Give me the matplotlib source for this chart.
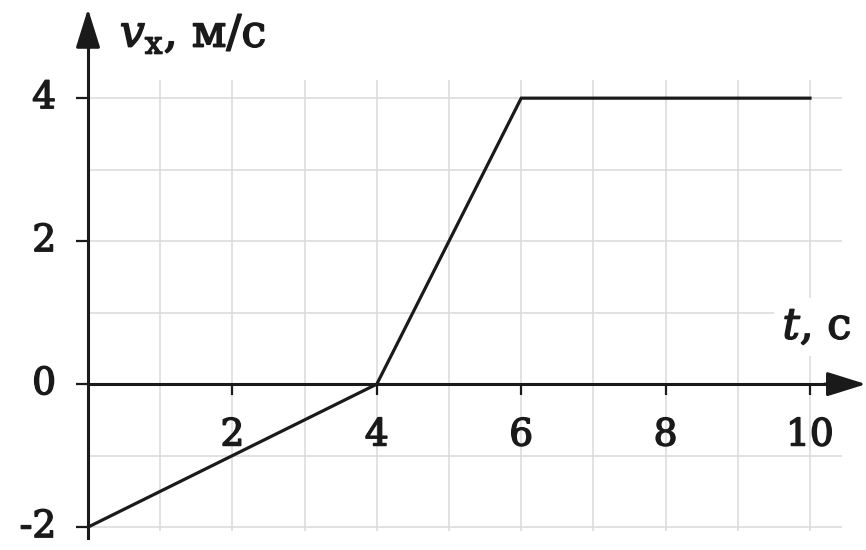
import numpy as np
import matplotlib
matplotlib.use("Agg")
import matplotlib.pyplot as plt
import matplotlib.patheffects as pe

plt.rcParams['font.family'] = ['DejaVu Serif']
plt.rcParams['mathtext.fontset'] = 'dejavuserif'
plt.rcParams['axes.unicode_minus'] = False

# graph of v_x(t)
t = [0, 4, 6, 10]
vx = [-2, 0, 4, 4]

xticks = [2, 4, 6, 8, 10]
yticks = [-2, 0, 2, 4]
grid_x = np.arange(1, 11)
grid_y = [-2, -1, 1, 2, 3, 4]

ink = '#1a1a1a'
grid_col = '#dadada'
# a bit heavier than the regular face, lighter than bold
heavy = [pe.withStroke(linewidth=1.1, foreground=ink)]

fig = plt.figure(figsize=(8.66, 5.5), dpi=100)
ax = fig.add_axes([0, 0, 1, 1])
ax.set_xlim(-1.219, 10.776)
ax.set_ylim(-2.32, 5.373)

# light grid
ax.vlines(grid_x, -2.05, 4.25, color=grid_col, lw=1.1, zorder=0)
ax.hlines(grid_y, 0, 10.44, color=grid_col, lw=1.1, zorder=0)

# axes through the origin
for side in ['top', 'right']:
    ax.spines[side].set_visible(False)
ax.spines['left'].set_position(('data', 0))
ax.spines['bottom'].set_position(('data', 0))
ax.spines['left'].set_bounds(-2.15, 5.0)
ax.spines['bottom'].set_bounds(0, 10.3)
for side in ['left', 'bottom']:
    ax.spines[side].set_linewidth(2.2)
    ax.spines[side].set_color(ink)

arrow = dict(arrowstyle='-|>,head_length=1.6,head_width=0.5',
             mutation_scale=15, lw=2.2, color=ink, shrinkA=0, shrinkB=0)
ax.annotate('', xy=(0, 5.25), xytext=(0, 4.8), arrowprops=arrow)
ax.annotate('', xy=(10.776, 0), xytext=(10.2, 0), arrowprops=arrow)

ax.set_xticks(xticks)
ax.set_xticklabels([str(v) for v in xticks])
ax.set_yticks(yticks)
ax.set_yticklabels([str(v) for v in yticks], va='center')
ax.tick_params(axis='x', direction='out', length=8, width=1.6, color=ink,
               labelsize=27, pad=16, labelcolor=ink)
ax.tick_params(axis='y', direction='out', length=9, width=1.6, color=ink,
               labelsize=27, pad=14, labelcolor=ink)
for lab in ax.get_xticklabels() + ax.get_yticklabels():
    lab.set_path_effects(heavy)

# the motion graph
ax.plot(t, vx, color=ink, lw=2.3, solid_joinstyle='miter', zorder=3)

# axis names
ax.text(0.44, 4.72, r'$v_{\mathrm{x}}$, м/с', fontsize=32, color=ink,
        ha='left', va='baseline', path_effects=heavy)
ax.text(9.62, 0.63, r'$t$, с', fontsize=31, color=ink,
        ha='left', va='baseline', path_effects=heavy,
        bbox=dict(facecolor='white', edgecolor='none', pad=6))

fig.savefig('out.png', dpi=100, facecolor='white')
